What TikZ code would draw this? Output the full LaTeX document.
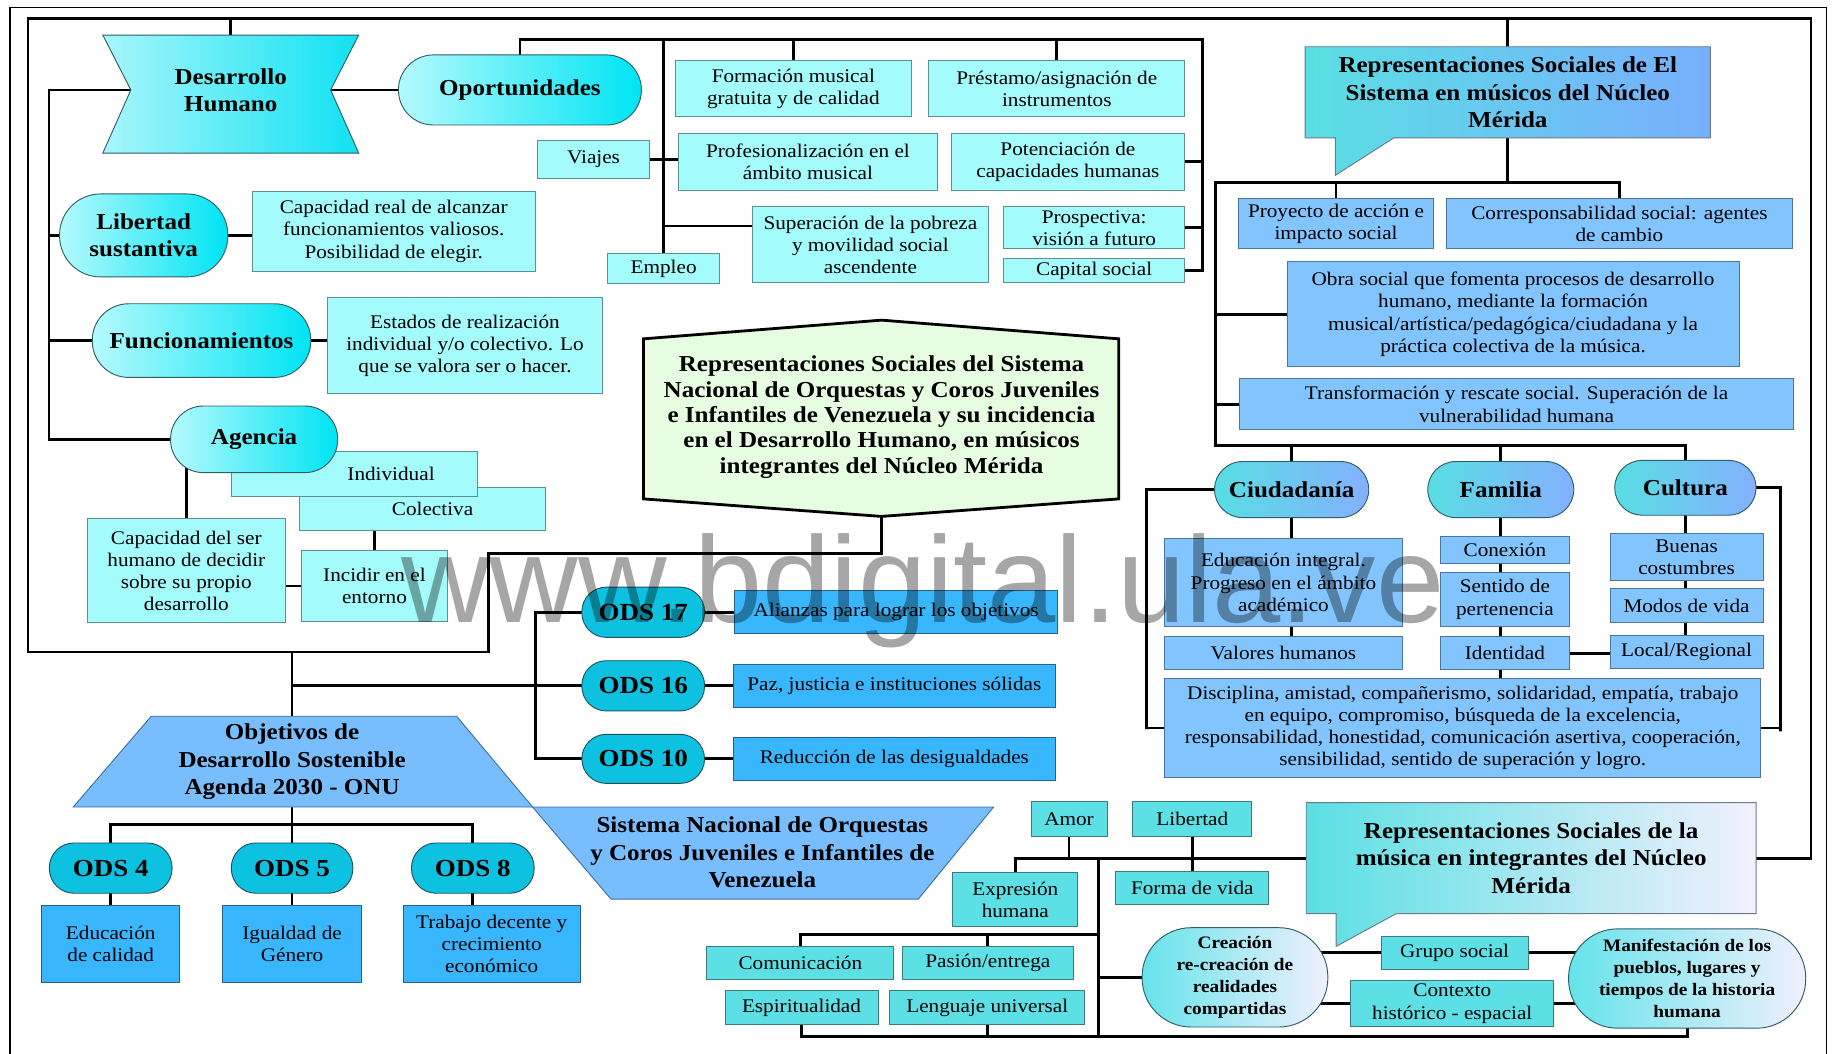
\documentclass[tikz,border=0pt]{standalone}
\usepackage{fontspec}
\setmainfont{Liberation Serif}[FakeStretch=1.1]
\setsansfont{Liberation Sans}
\usepackage{tikz}
\usetikzlibrary{shapes.misc, backgrounds, positioning}

\definecolor{celeste}{HTML}{A4FBFC}
\definecolor{bcel}{HTML}{5F9090}
\definecolor{pilizq}{HTML}{B4FAFD}
\definecolor{pilder}{HTML}{00E4F4}
\definecolor{bpil}{HTML}{2E5E66}
\definecolor{dhizq}{HTML}{A8F6FB}
\definecolor{dhder}{HTML}{10E2F2}
\definecolor{cianods}{HTML}{0DC2E1}
\definecolor{bods2}{HTML}{24505E}
\definecolor{azulods}{HTML}{38B6FE}
\definecolor{bods}{HTML}{2B5F8E}
\definecolor{azultrap}{HTML}{78BEFE}
\definecolor{btrap}{HTML}{40709E}
\definecolor{verdeclaro}{HTML}{E6FDE2}
\definecolor{azulclaro}{HTML}{82C5FE}
\definecolor{bazul}{HTML}{4A76A0}
\definecolor{call1izq}{HTML}{5ADFE3}
\definecolor{call1der}{HTML}{78AEFE}
\definecolor{bcall}{HTML}{6A7A8A}
\definecolor{pil2izq}{HTML}{58DEE3}
\definecolor{pil2der}{HTML}{84B0FE}
\definecolor{call2izq}{HTML}{5ADFE3}
\definecolor{call2der}{HTML}{F2F0FE}
\definecolor{pil3izq}{HTML}{66E3EA}
\definecolor{pil3der}{HTML}{F0F0FE}
\definecolor{turquesa}{HTML}{5CE0E5}
\definecolor{bturq}{HTML}{3E7A7C}

\newcommand{\fnorm}{\fontsize{16.5pt}{19pt}\selectfont}
\newcommand{\ftit}{\fontsize{19.5pt}{23.5pt}\selectfont\bfseries}
\newcommand{\fcentral}{\fontsize{19.5pt}{21.7pt}\selectfont\bfseries}
\newcommand{\fods}{\fontsize{21pt}{24pt}\selectfont\bfseries}
\newcommand{\fchico}{\fontsize{15pt}{18.7pt}\selectfont\bfseries}

\begin{document}
\begin{tikzpicture}[x=1pt, y=-1pt,
    caja/.style={rectangle, draw=bcel, fill=celeste, line width=0.8pt, inner sep=0pt, align=center, font=\fnorm},
    cajaazul/.style={caja, draw=bazul, fill=azulclaro},
    cajaods/.style={caja, draw=bods, fill=azulods},
    cajaturq/.style={caja, draw=bturq, fill=turquesa},
    tam/.style 2 args={minimum width=#1pt, minimum height=#2pt},
    pildora/.style={rectangle, draw=bpil, line width=0.8pt, left color=pilizq, right color=pilder, inner sep=0pt, align=center, font=\ftit},
    pilazul/.style={pildora, left color=pil2izq, right color=pil2der},
    pillila/.style={pildora, left color=pil3izq, right color=pil3der, font=\fchico},
    pilods/.style={rectangle, draw=bods2, fill=cianods, line width=0.8pt, inner sep=0pt, font=\fods},
    texto/.style={inner sep=0pt, align=center, font=\ftit},
    conector/.style={line width=2.4pt, line cap=rect}]

    \useasboundingbox (0,0) rectangle (1568,902);

    % Desarrollo Humano
    \shade[draw=bpil, line width=0.8pt, left color=dhizq, right color=dhder]
        (88,30) -- (307,30) -- (283,77) -- (307,131) -- (88,131) -- (112,77) -- cycle;
    \node (dh) [texto, tam={171}{94}] at (197.5,77) {Desarrollo\\Humano};

    \node (opor) [pildora, tam={208}{60}, rounded corners=30pt] at (445,77) {Oportunidades};
    \node (libsus) [pildora, tam={144}{71}, rounded corners=35pt] at (123,201.5) {Libertad\\sustantiva};
    \node (func) [pildora, tam={187}{63}, rounded corners=31pt] at (172.5,291.5) {Funcionamientos};
    \node (capreal) [caja, tam={242}{68}] at (337,198) {Capacidad real de alcanzar\\funcionamientos valiosos.\\Posibilidad de elegir.};
    \node (estados) [caja, tam={236}{82}] at (398,296) {Estados de realización\\individual y/o colectivo. Lo\\que se valora ser o hacer.};
    \node (colect) [caja, tam={211}{37}, text width=87pt, inner xsep=62pt, align=right] at (361.5,435.5) {Colectiva};
    \node (indiv) [caja, tam={211}{39}, text width=137pt, inner xsep=37pt, align=right] at (303.5,405.5) {Individual};
    \node (agen) [pildora, tam={143}{57}, rounded corners=28pt] at (217.5,376) {Agencia};
    \node (capser) [caja, tam={169}{89}] at (159.5,488.5) {Capacidad del ser\\humano de decidir\\sobre su propio\\desarrollo};
    \node (incidir) [caja, tam={125}{61}] at (320.5,501.5) {Incidir en el\\entorno};

    % Oportunidades
    \node (formacion) [caja, tam={202}{48}] at (679,76) {Formación musical\\gratuita y de calidad};
    \node (prestamo) [caja, tam={219}{48}] at (904.5,76) {Préstamo/asignación de\\instrumentos};
    \node (viajes) [caja, tam={96}{33}] at (508,136.5) {Viajes};
    \node (profes) [caja, tam={221}{49}] at (691.5,138.5) {Profesionalización en el\\ámbito musical};
    \node (potenc) [caja, tam={200}{49}] at (914,138.5) {Potenciación de\\capacidades humanas};
    \node (superac) [caja, tam={202}{65}] at (745,209.5) {Superación de la pobreza\\y movilidad social\\ascendente};
    \node (prospec) [caja, tam={155}{36}] at (936.5,195) {Prospectiva:\\visión a futuro};
    \node (capsoc) [caja, tam={155}{21}] at (936.5,231.5) {Capital social};
    \node (empleo) [caja, tam={96}{26}] at (568,230) {Empleo};

    % titulo central
    \filldraw[draw=black, line width=2.4pt, fill=verdeclaro]
        (754.5,274) -- (957.5,290) -- (957.5,427) -- (754.5,442) -- (550.7,427) -- (550.7,290) -- cycle;
    \node (central) [texto, tam={407}{168}, font=\fcentral] at (754.5,357) {Representaciones Sociales del Sistema\\Nacional de Orquestas y Coros Juveniles\\e Infantiles de Venezuela y su incidencia\\en el Desarrollo Humano, en músicos\\integrantes del Núcleo Mérida};

    % ODS
    \node (ods17) [pilods, tam={105}{43}, rounded corners=21pt] at (550.5,524) {ODS 17};
    \node (ods16) [pilods, tam={105}{43}, rounded corners=21pt] at (550.5,587) {ODS 16};
    \node (ods10) [pilods, tam={105}{42}, rounded corners=21pt] at (550.5,649.5) {ODS 10};
    \node (alianzas) [cajaods, tam={276}{37}] at (767,524) {Alianzas para lograr los objetivos};
    \node (paz) [cajaods, tam={275}{37}] at (765.5,587) {Paz, justicia e instituciones sólidas};
    \node (reduccion) [cajaods, tam={275}{37}] at (765.5,649.5) {Reducción de las desigualdades};

    \filldraw[draw=btrap, fill=azultrap, line width=0.8pt]
        (129.5,613) -- (390.8,613) -- (455.8,690.7) -- (62.7,690.7) -- cycle;
    \node (objet) [texto, tam={10}{78}] at (250,652) {Objetivos de\\Desarrollo Sostenible\\Agenda 2030 - ONU};
    \filldraw[draw=btrap, fill=azultrap, line width=0.8pt]
        (455.8,690.7) -- (850.4,690.7) -- (785.9,769.6) -- (523,769.6) -- cycle;
    \node (sistema) [texto] at (652.5,729.5) {Sistema Nacional de Orquestas\\y Coros Juveniles e Infantiles de\\Venezuela};

    \node (ods4) [pilods, tam={105}{43}, rounded corners=21pt] at (94.75,743) {ODS 4};
    \node (ods5) [pilods, tam={104}{43}, rounded corners=21pt] at (250,743) {ODS 5};
    \node (ods8) [pilods, tam={105}{43}, rounded corners=21pt] at (404.7,743) {ODS 8};
    \node (educ) [cajaods, tam={118.5}{66}] at (94.75,808) {Educación\\de calidad};
    \node (igual) [cajaods, tam={119}{66}] at (250,808) {Igualdad de\\Género};
    \node (trabajo) [cajaods, tam={151.6}{66}] at (420.8,808) {Trabajo decente y\\crecimiento\\económico};

    % El Sistema
    \shade[draw=bcall, line width=0.8pt, left color=call1izq, right color=call1der]
        (1117,40) -- (1464,40) -- (1464,118) -- (1193,118) -- (1143,150) -- (1143,118) -- (1117,118) -- cycle;
    \node (elsis) [texto, tam={347}{78}] at (1290.5,79) {Representaciones Sociales de El\\Sistema en músicos del Núcleo\\Mérida};
    \node (proyecto) [cajaazul, tam={167}{43}] at (1143.5,191.5) {Proyecto de acción e\\impacto social};
    \node (corresp) [cajaazul, tam={296}{43}] at (1386,191.5) {Corresponsabilidad social: agentes\\de cambio};
    \node (obra) [cajaazul, tam={387}{90}] at (1295,269) {Obra social que fomenta procesos de desarrollo\\humano, mediante la formación\\musical/artística/pedagógica/ciudadana y la\\práctica colectiva de la música.};
    \node (transf) [cajaazul, tam={474}{44}] at (1298,346) {Transformación y rescate social. Superación de la\\vulnerabilidad humana};

    \node (ciudad) [pilazul, tam={132}{48}, rounded corners=24pt] at (1105.5,419) {Ciudadanía};
    \node (familia) [pilazul, tam={125}{48}, rounded corners=24pt] at (1284.5,419) {Familia};
    \node (cultura) [pilazul, tam={121}{47}, rounded corners=23.5pt] at (1442.5,417.5) {Cultura};
    \node (educint) [cajaazul, tam={203}{75}] at (1098.5,498.5) {Educación integral.\\Progreso en el ámbito\\académico};
    \node (valores) [cajaazul, tam={203}{28}] at (1098.5,559) {Valores humanos};
    \node (conexion) [cajaazul, tam={110}{23}] at (1288,470.5) {Conexión};
    \node (sentido) [cajaazul, tam={110}{46}] at (1288,513) {Sentido de\\pertenencia};
    \node (identidad) [cajaazul, tam={110}{28}] at (1288,559) {Identidad};
    \node (buenas) [cajaazul, tam={131}{40}] at (1443.5,477) {Buenas\\costumbres};
    \node (modos) [cajaazul, tam={131}{29}] at (1443.5,518.5) {Modos de vida};
    \node (local) [cajaazul, tam={131}{28}] at (1443.5,558) {Local/Regional};
    \node (discip) [cajaazul, tam={510}{84}] at (1252,623) {Disciplina, amistad, compañerismo, solidaridad, empatía, trabajo\\en equipo, compromiso, búsqueda de la excelencia,\\responsabilidad, honestidad, comunicación asertiva, cooperación,\\sensibilidad, sentido de superación y logro.};

    % La musica
    \shade[draw=bcall, line width=0.8pt, left color=call2izq, right color=call2der]
        (1118,687) -- (1503,687) -- (1503,782) -- (1195,782) -- (1143.6,810) -- (1143.6,782) -- (1118,782) -- cycle;
    \node (musica) [texto, tam={385}{95}] at (1310.5,734.5) {Representaciones Sociales de la\\música en integrantes del Núcleo\\Mérida};
    \node (amor) [cajaturq, tam={65}{30}] at (915,701) {Amor};
    \node (libert) [cajaturq, tam={102}{30}] at (1020.5,701) {Libertad};
    \node (expres) [cajaturq, tam={107}{46}] at (869,770) {Expresión\\humana};
    \node (formavida) [cajaturq, tam={131}{29}] at (1020.5,760) {Forma de vida};
    \node (comunic) [cajaturq, tam={160}{28}] at (685,824) {Comunicación};
    \node (pasion) [cajaturq, tam={147}{28}] at (845.5,824) {Pasión/entrega};
    \node (espir) [cajaturq, tam={131}{29}] at (686,862.5) {Espiritualidad};
    \node (lengua) [cajaturq, tam={167}{29}] at (845,862.5) {Lenguaje universal};
    \node (grupo) [cajaturq, tam={126}{28}] at (1245,815.5) {Grupo social};
    \node (contexto) [cajaturq, tam={174}{39}] at (1243,859) {Contexto\\histórico - espacial};
    \node (creacion) [pillila, tam={159}{85}, rounded corners=42pt] at (1057,836.5) {Creación\\re-creación de\\realidades\\compartidas};
    \node (manif) [pillila, tam={203}{85}, rounded corners=42pt] at (1444,837.5) {Manifestación de los\\pueblos, lugares y\\tiempos de la historia\\humana};

    % puntos de union
    \coordinate (ftl) at (24,16);
    \coordinate (ftr) at (1550,16);
    \coordinate (fbl) at (24,558);
    \coordinate (fstep) at (418,474);
    \coordinate (lbus) at (42,77);
    \coordinate (obus) at (1029,34);
    \coordinate (odsbus) at (458,587);
    \coordinate (barra) at (250,706);
    \coordinate (rtop) at (1040,156);
    \coordinate (rlow) at (1040,381);
    \coordinate (cleft) at (981,624);
    \coordinate (cright) at (1524,626);
    \coordinate (mbus) at (940,887);
    \coordinate (cbar) at (940,800);

    \begin{scope}[on background layer]
    \draw[line width=1.2pt] (8.5,902) -- (8.5,6.5) -- (1563.5,6.5) -- (1563.5,902);
    \begin{scope}[conector]
        \draw (central.south) |- (fstep) |- (fbl) -- (ftl) -- (ftr) |- (musica.east);
        % desarrollo humano
        \draw (dh.north) -- (dh.north |- ftl);
        \draw (dh.east) -- (opor.west);
        \draw (dh.west) -- (dh.west -| lbus) |- (agen.west);
        \draw (libsus.west) -- (libsus.west -| lbus);
        \draw (func.west) -- (func.west -| lbus);
        \draw (libsus.east) -- (libsus.east -| capreal.west);
        \draw (func.east) -- (func.east -| estados.west);
        \draw (capser.north) -- (capser.north |- agen.center);
        \draw (incidir.north) -- (incidir.north |- colect.south);
        \draw (incidir.west) -- (incidir.west -| capser.east);
        % oportunidades
        \draw (opor.north) |- (obus) |- (capsoc.east);
        \draw (potenc.east) -- (potenc.east -| obus);
        \draw (prospec.east) -- (prospec.east -| obus);
        \draw (formacion.north) -- (formacion.north |- obus);
        \draw (prestamo.north) -- (prestamo.north |- obus);
        \draw (empleo.north) -- (empleo.north |- obus);
        \draw (viajes.east) -- (viajes.east -| profes.west);
        \draw (superac.171) -- (superac.171 -| empleo.north);
        % ods
        \draw (objet.north) -- (objet.north |- fbl);
        \draw (objet.north |- ods16.west) -- (ods16.west);
        \draw (ods17.west) -| (odsbus) |- (ods10.west);
        \draw (ods17.east) -- (alianzas.west);
        \draw (ods16.east) -- (paz.west);
        \draw (ods10.east) -- (reduccion.west);
        \draw (objet.south) -- (ods5.north);
        \draw (ods4.north) |- (barra) -| (ods8.north);
        \draw (ods4.south) -- (educ.north);
        \draw (ods5.south) -- (igual.north);
        \draw (ods8.south) -- (ods8.south |- trabajo.north);
        % el sistema
        \draw (elsis.north) -- (elsis.north |- ftr);
        \draw (elsis.south) -- (elsis.south |- rtop);
        \draw (corresp.north) |- (rtop) -- (rlow) -| (cultura.north);
        \draw (proyecto.north) -- (proyecto.north |- rtop);
        \draw (obra.west) -- (obra.west -| rtop);
        \draw (transf.west) -- (transf.west -| rtop);
        \draw (ciudad.north) -- (ciudad.north |- rlow);
        \draw (familia.north) -- (familia.north |- rlow);
        \draw (ciudad.south) -- (ciudad.south |- valores.north);
        \draw (familia.south) -- (familia.south |- discip.north);
        \draw (cultura.south) -- (cultura.south |- local.north);
        \draw (identidad.east) -- (identidad.east -| local.west);
        \draw (ciudad.west) -| (cleft) |- (discip.west);
        \draw (cultura.east) -| (cright) |- (discip.east);
        % la musica
        \draw (expres.north) |- (musica.west);
        \draw (amor.south) -- (amor.south |- musica.west);
        \draw (libert.south) -- (formavida.north);
        \draw (mbus) -- (mbus |- musica.west);
        \draw (creacion.west) -- (creacion.west -| mbus);
        \draw (comunic.north) |- (cbar);
        \draw (pasion.north) -- (pasion.north |- cbar);
        \draw (espir.south) |- (mbus) -| (manif.south);
        \draw (lengua.south) -- (lengua.south |- mbus);
        \draw (creacion.center |- grupo.center) -- (manif.center |- grupo.center);
        \draw (creacion.center |- contexto.center) -- (manif.center |- contexto.center);
    \end{scope}
    \end{scope}

    \node (marca) [anchor=base, inner sep=0pt, font=\sffamily\fontsize{105pt}{105pt}\selectfont, text=black, text opacity=0.35] at (790,533) {www.bdigital.ula.ve};
\end{tikzpicture}
\end{document}
